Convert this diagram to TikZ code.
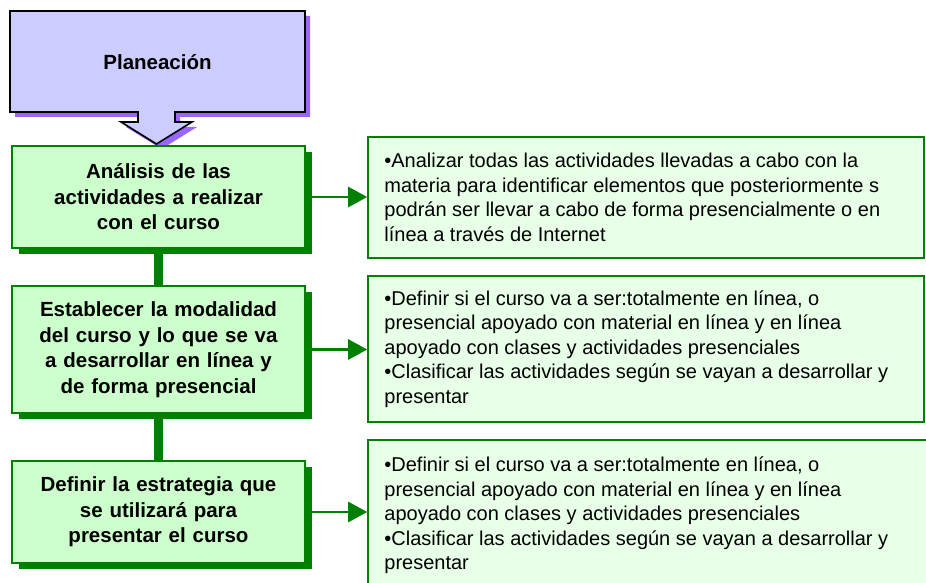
\documentclass[tikz,border=0pt]{standalone}
\usepackage{fontspec}
\setmainfont{Liberation Sans}
\usetikzlibrary{arrows.meta,shadows}
\definecolor{lav}{HTML}{CCCCFF}
\definecolor{lavsh}{HTML}{9966FF}
\definecolor{gfill}{HTML}{CCFFCC}
\definecolor{gline}{HTML}{008000}
\definecolor{rfill}{HTML}{E8FFE8}
\tikzset{
  stepbox/.style={draw=gline, line width=2pt, fill=gfill, minimum width=293pt,
    minimum height=102pt, align=center, text width=275pt, inner sep=0pt,
    font=\bfseries\fontsize{20.5}{25.5}\selectfont,
    drop shadow={shadow xshift=7pt, shadow yshift=-6pt, fill=gline, opacity=1}},
  infobox/.style={draw=gline, line width=1.6pt, fill=rfill, minimum width=556pt, inner sep=0pt},
  infotext/.style={anchor=west, inner sep=0pt, align=left,
    font=\fontsize{20}{24.5}\selectfont},
  vlink/.style={draw=gline, line width=9pt},
  hlink/.style={draw=gline, line width=2.5pt, -{Triangle[length=19pt,width=20pt]}}
}
\begin{document}
\begin{tikzpicture}[x=1pt,y=-1pt]
\clip (0,0) rectangle (926,583);
% Planeacion block arrow
\fill[lavsh, shift={(5,5)}] (10,11) -- (305,11) -- (305,112) -- (175,112) -- (175,122)
  -- (192,122) -- (156.5,144) -- (121,122) -- (138,122) -- (138,112) -- (10,112) -- cycle;
\draw[fill=lav, line width=1.6pt] (10,11) -- (305,11) -- (305,112) -- (175,112) -- (175,122)
  -- (192,122) -- (156.5,144) -- (121,122) -- (138,122) -- (138,112) -- (10,112) -- cycle;
\node[font=\bfseries\fontsize{20.5}{24}\selectfont] (plan) at (157.5,62) {Planeación};
% left steps
\node[stepbox] (b1) at (158.5,197) {Análisis de las\\actividades a realizar\\con el curso};
\node[stepbox, minimum height=127pt] (b2) at (158.5,349.5) {Establecer la modalidad\\del curso y lo que se va\\a desarrollar en línea y\\de forma presencial};
\node[stepbox] (b3) at (158.5,512) {Definir la estrategia que\\se utilizará para\\presentar el curso};
% right boxes
\node[infobox, minimum height=121pt] (r1) at (646,197.5) {};
\node[infobox, minimum height=146pt] (r2) at (646,349) {};
\node[infobox, minimum height=151pt, minimum width=562pt] (r3) at (649,515.5) {};
\node[infotext] (t1) at ([xshift=17pt]r1.west) {•Analizar todas las actividades llevadas a cabo con la\\materia para identificar elementos que posteriormente s\\podrán ser llevar a cabo de forma presencialmente o en\\línea a través de Internet};
\node[infotext] (t2) at ([xshift=17pt]r2.west) {•Definir si el curso va a ser:totalmente en línea, o\\presencial apoyado con material en línea y en línea\\apoyado con clases y actividades presenciales\\•Clasificar las actividades según se vayan a desarrollar y\\presentar};
\node[infotext] (t3) at ([xshift=17pt]r3.west) {•Definir si el curso va a ser:totalmente en línea, o\\presencial apoyado con material en línea y en línea\\apoyado con clases y actividades presenciales\\•Clasificar las actividades según se vayan a desarrollar y\\presentar};
% connectors
\draw[vlink] (b1.south) -- (b2.north);
\draw[vlink] (b2.south) -- (b3.north);
\draw[hlink] (b1.east) -- (r1.west |- b1.east);
\draw[hlink] (b2.east) -- (r2.west |- b2.east);
\draw[hlink] (b3.east) -- (r3.west |- b3.east);
\end{tikzpicture}
\end{document}
